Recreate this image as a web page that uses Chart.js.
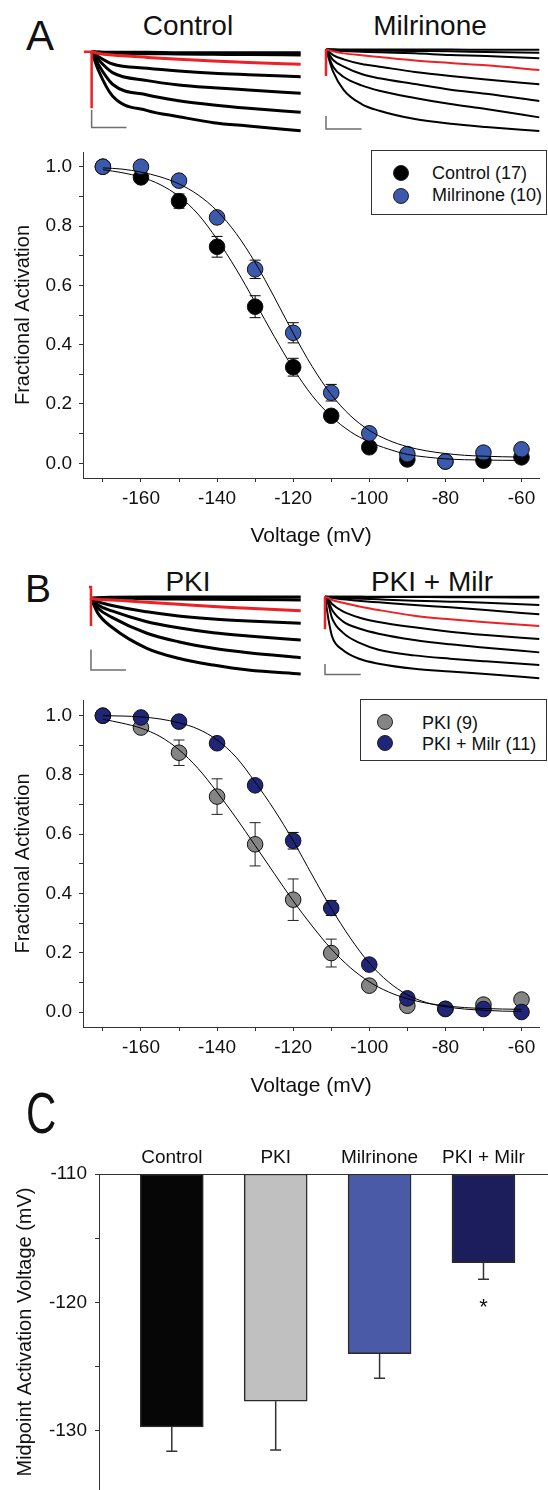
<!DOCTYPE html>
<html>
<head>
<meta charset="utf-8">
<script src="https://cdn.jsdelivr.net/npm/chart.js@4.4.1/dist/chart.umd.min.js"></script>
<style>
    body { margin: 0; background: #fff; }
    #fig { position: relative; width: 548px; height: 1490px; overflow: hidden; font-family: 'Liberation Sans', Arial, sans-serif; color: #111; }
    #fig canvas, #fig .txt, #fig .legend { position: absolute; }
    .txt { line-height: 1; white-space: nowrap; }
    .center { transform: translateX(-50%); }
    .legend { border: 1px solid #333; box-sizing: border-box; background: #fff; }
    .legend .dot { position: absolute; width: 16px; height: 16px; border-radius: 50%; border: 1px solid #222; box-sizing: border-box; }
    .legend .lab { position: absolute; font-size: 18px; line-height: 1; white-space: nowrap; }
</style>
</head>
<body>
<div id="fig">
    <div class="txt" style="left:26px;top:15px;font-size:42px">A</div>
    <div class="txt center" style="left:188px;top:12px;font-size:28px">Control</div>
    <div class="txt center" style="left:430px;top:12px;font-size:28px">Milrinone</div>
    <canvas id="traceCtrl" width="230" height="100" style="left:80px;top:40px"></canvas>
    <canvas id="traceMilr" width="238" height="100" style="left:310px;top:40px"></canvas>
    <canvas id="actA" width="548" height="420" style="left:0;top:140px"></canvas>
    <div class="legend" style="left:371px;top:150px;width:176px;height:65px">
        <span class="dot" style="left:21px;top:14px;background:#000"></span>
        <span class="lab" style="left:60px;top:13px">Control (17)</span>
        <span class="dot" style="left:21px;top:37px;background:#3c5aab"></span>
        <span class="lab" style="left:60px;top:35px">Milrinone (10)</span>
    </div>

    <div class="txt" style="left:25px;top:569px;font-size:39px">B</div>
    <div class="txt center" style="left:188px;top:568px;font-size:28px">PKI</div>
    <div class="txt center" style="left:432px;top:568px;font-size:28px">PKI + Milr</div>
    <canvas id="tracePki" width="230" height="115" style="left:80px;top:575px"></canvas>
    <canvas id="tracePkiMilr" width="238" height="100" style="left:310px;top:590px"></canvas>
    <canvas id="actB" width="548" height="420" style="left:0;top:690px"></canvas>
    <div class="legend" style="left:360px;top:699px;width:187px;height:62px">
        <span class="dot" style="left:16px;top:14px;background:#858585"></span>
        <span class="lab" style="left:61px;top:14px">PKI (9)</span>
        <span class="dot" style="left:16px;top:35px;background:#1f2577"></span>
        <span class="lab" style="left:61px;top:35px">PKI + Milr (11)</span>
    </div>

    <div class="txt" style="left:26px;top:1085px;font-size:42px;transform:scaleY(1.38);transform-origin:0 0">C</div>
    <canvas id="midpoint" width="548" height="380" style="left:0;top:1110px"></canvas>
</div>
<script>
// --- activation curves (fractional activation vs voltage) ---
const voltages = [-170, -160, -150, -140, -130, -120, -110, -100, -90, -80, -70, -60];
const ctrlAct = [1.0, 0.964, 0.884, 0.730, 0.528, 0.324, 0.160, 0.054, 0.013, 0.006, 0.009, 0.020];
const ctrlErr = [0, 0.012, 0.024, 0.035, 0.037, 0.030, 0.012, 0.010, 0.006, 0.005, 0.005, 0.006];
const milrAct = [1.0, 1.0, 0.953, 0.829, 0.654, 0.440, 0.238, 0.101, 0.031, 0.006, 0.036, 0.047];
const milrErr = [0, 0, 0.010, 0.012, 0.031, 0.034, 0.028, 0.012, 0.008, 0.005, 0.008, 0.010];
const pkiAct = [1.0, 0.960, 0.875, 0.727, 0.566, 0.379, 0.199, 0.089, 0.021, 0.010, 0.025, 0.042];
const pkiErr = [0, 0.015, 0.043, 0.060, 0.073, 0.070, 0.047, 0.015, 0.008, 0.006, 0.010, 0.012];
const pkiMilrAct = [1.0, 0.994, 0.980, 0.907, 0.765, 0.578, 0.351, 0.160, 0.046, 0.011, 0.010, 0.0];
const pkiMilrErr = [0, 0.005, 0.008, 0.012, 0.015, 0.028, 0.025, 0.012, 0.008, 0.005, 0.005, 0.005];

// fitted curves, read every 5 mV
const fitVoltages = [-170, -165, -160, -155, -150, -145, -140, -135, -130, -125, -120, -115,
    -110, -105, -100, -95, -90, -85, -80, -75, -70, -65, -60];
const ctrlFit = [0.990, 0.980, 0.965, 0.940, 0.900, 0.840, 0.755, 0.655, 0.543, 0.428, 0.320, 0.228,
    0.158, 0.107, 0.072, 0.048, 0.030, 0.021, 0.015, 0.012, 0.011, 0.010, 0.010];
const milrFit = [0.996, 0.992, 0.982, 0.966, 0.942, 0.905, 0.851, 0.775, 0.677, 0.561, 0.439, 0.326,
    0.232, 0.161, 0.111, 0.078, 0.056, 0.042, 0.033, 0.027, 0.024, 0.022, 0.021];
const pkiFit = [0.988, 0.975, 0.958, 0.930, 0.885, 0.822, 0.742, 0.655, 0.562, 0.468, 0.375, 0.290,
    0.213, 0.150, 0.102, 0.068, 0.045, 0.030, 0.021, 0.015, 0.012, 0.010, 0.009];
const pkiMilrFit = [1.0, 0.999, 0.996, 0.989, 0.976, 0.955, 0.918, 0.860, 0.776, 0.683, 0.578, 0.462,
    0.350, 0.250, 0.165, 0.102, 0.058, 0.032, 0.018, 0.010, 0.006, 0.003, 0.002];

// --- midpoint bars ---
const groups = ['Control', 'PKI', 'Milrinone', 'PKI + Milr'];
const midpoints = [-129.7, -127.7, -124.0, -116.9];
const midpointErr = [1.9, 3.8, 1.9, 1.3];
const sigMarks = ['', '', '', '*'];

// --- current traces (time in s, current in nA; scale bars 1 nA / 0.5 s) ---
const ctrlTime = [0, 0.1, 0.3, 0.8, 1.25, 1.75, 2.25, 3.0];
const ctrlCurrents = [
    [0, -0.02, -0.04, -0.04, -0.06, -0.06, -0.06, -0.06],
    [0, -0.04, -0.08, -0.12, -0.13, -0.15, -0.17, -0.19],
    [0, -0.10, -0.19, -0.33, -0.44, -0.54, -0.62, -0.73],
    [0, -0.29, -0.71, -0.96, -1.12, -1.25, -1.33, -1.44],
    [0, -0.48, -1.21, -1.67, -1.92, -2.08, -2.21, -2.40],
    [0, -0.77, -1.88, -2.50, -2.83, -3.08, -3.27, -3.50],
    [0, -1.10, -2.56, -3.40, -3.75, -4.10, -4.29, -4.56]
];
const ctrlSpike = { t: [-0.11, 0, 0], i: [0, 0, -3.27] };
const ctrlBar = { t: [0, 0, 0.5], i: [-3.37, -4.37, -4.37] };

const milrTime = [0, 0.1, 0.25, 0.5, 0.75, 1.25, 1.75, 2.25, 3.0];
const milrCurrents = [
    [0, 0, -0.01, -0.01, -0.02, -0.02, -0.02, -0.03, -0.03],
    [0, -0.03, -0.05, -0.08, -0.10, -0.13, -0.15, -0.21, -0.26],
    [0, -0.05, -0.13, -0.18, -0.23, -0.31, -0.44, -0.51, -0.69],
    [0, -0.15, -0.31, -0.46, -0.59, -0.85, -1.05, -1.23, -1.59],
    [0, -0.44, -0.77, -1.13, -1.33, -1.74, -2.05, -2.31, -2.69],
    [0, -0.82, -1.33, -1.90, -2.23, -2.67, -3.10, -3.41, -3.97],
    [0, -1.33, -2.13, -2.77, -3.18, -3.74, -4.21, -4.59, -5.23],
    [0, -1.72, -3.13, -4.21, -4.72, -5.36, -5.72, -5.97, -6.28]
];
const milrSpike = { t: [0, 0], i: [0, -2.05] };
const milrBar = { t: [0, 0, 0.5], i: [-5.13, -6.13, -6.13] };

const pkiTime = [0, 0.1, 0.3, 0.8, 1.25, 1.75, 2.25, 3.0];
const pkiCurrents = [
    [0, 0.03, 0.05, 0.06, 0.06, 0.06, 0.06, 0.06],
    [0, 0.02, 0.02, -0.02, -0.03, -0.05, -0.06, -0.08],
    [0, -0.05, -0.08, -0.19, -0.29, -0.40, -0.48, -0.60],
    [0, -0.16, -0.35, -0.65, -0.85, -1.00, -1.10, -1.21],
    [0, -0.32, -0.61, -1.13, -1.42, -1.66, -1.82, -2.02],
    [0, -0.48, -0.92, -1.69, -2.10, -2.42, -2.63, -2.87],
    [0, -0.73, -1.40, -2.42, -2.90, -3.23, -3.47, -3.66]
];
const pkiSpike = { t: [-0.03, 0, 0], i: [0.55, 0.55, -1.34] };
const pkiBar = { t: [0, 0, 0.5], i: [-2.47, -3.47, -3.47] };

const pkiMilrTime = [0, 0.05, 0.1, 0.25, 0.5, 0.75, 1.25, 1.75, 2.25, 3.0];
const pkiMilrCurrents = [
    [0, 0, 0, 0, 0, 0, 0, 0, 0, 0],
    [0, 0, 0, -0.01, -0.02, -0.03, -0.04, -0.05, -0.06, -0.08],
    [0, -0.03, -0.06, -0.13, -0.19, -0.26, -0.39, -0.48, -0.58, -0.81],
    [0, -0.06, -0.13, -0.26, -0.42, -0.55, -0.81, -1.03, -1.29, -1.71],
    [0, -0.13, -0.32, -0.58, -0.97, -1.29, -1.84, -2.19, -2.48, -2.84],
    [0, -0.26, -0.71, -1.42, -2.06, -2.45, -2.97, -3.39, -3.71, -4.10],
    [0, -0.48, -1.29, -2.39, -3.13, -3.58, -4.19, -4.61, -4.94, -5.39],
    [0, -0.81, -2.10, -3.48, -4.52, -5.13, -5.68, -6.00, -6.26, -6.61],
    [0, -2.26, -3.87, -5.16, -6.06, -6.48, -6.97, -7.23, -7.48, -7.90]
];
const pkiMilrSpike = { t: [0, 0], i: [0, -3.16] };
const pkiMilrBar = { t: [0, 0, 0.5], i: [-6.52, -7.52, -7.52] };

const RED = '#ec2126';
const AXIS = '#333';

Chart.defaults.font.family = "'Liberation Sans', Arial, sans-serif";
Chart.defaults.color = '#111';
Chart.defaults.animation = false;
Chart.defaults.events = [];
Chart.defaults.plugins.legend.display = false;
Chart.defaults.plugins.tooltip.enabled = false;

const toXY = (xs, ys) => xs.map((x, i) => ({ x, y: ys[i] }));

// draws mean +/- error through the chart scales
const errorBarPlugin = {
    id: 'errorBars',
    beforeDatasetsDraw(chart) {
        const { ctx } = chart;
        const xs = chart.scales.x, ys = chart.scales.y;
        chart.data.datasets.forEach(ds => {
            if (!ds.errors) return;
            ctx.save();
            ctx.strokeStyle = ds.errorColor || '#000';
            ctx.lineWidth = ds.errorWidth || 1;
            ds.data.forEach((p, i) => {
                const e = ds.errors[i];
                if (!e) return;
                const v = Array.isArray(p.y) ? p.y[1] : p.y;
                const px = xs.getPixelForValue(p.x);
                const lo = ys.getPixelForValue(v - e);
                const hi = ys.getPixelForValue(ds.errorDownOnly ? v : v + e);
                const c = ds.capHalf || 5;
                ctx.beginPath();
                ctx.moveTo(px, hi); ctx.lineTo(px, lo);
                ctx.moveTo(px - c, lo); ctx.lineTo(px + c, lo);
                if (!ds.errorDownOnly) { ctx.moveTo(px - c, hi); ctx.lineTo(px + c, hi); }
                ctx.stroke();
            });
            ctx.restore();
        });
    },
    afterDatasetsDraw(chart) {
        const { ctx } = chart;
        chart.data.datasets.forEach(ds => {
            if (!ds.marks) return;
            ctx.save();
            ctx.fillStyle = '#111';
            ctx.font = "22px 'Liberation Sans', Arial, sans-serif";
            ctx.textAlign = 'center';
            ctx.textBaseline = 'alphabetic';
            ds.data.forEach((p, i) => {
                if (!ds.marks[i]) return;
                const v = p.y[1] - ds.errors[i];
                ctx.fillText(ds.marks[i], chart.scales.x.getPixelForValue(p.x), chart.scales.y.getPixelForValue(v) + 35);
            });
            ctx.restore();
        });
    }
};

// --- example current traces ---
function renderTraces(id, time, currents, redIndex, spike, bar, xRange, yRange, width) {
    const datasets = currents.map((c, i) => ({
        data: toXY(time, c),
        borderColor: i === redIndex ? RED : '#000',
        borderWidth: width,
        order: i === redIndex ? 0 : 1,
        cubicInterpolationMode: 'monotone'
    }));
    datasets.push({ data: toXY(spike.t, spike.i), borderColor: RED, borderWidth: 2.5, order: 0 });
    datasets.push({ data: toXY(bar.t, bar.i), borderColor: '#6e6e6e', borderWidth: 1.5, order: 2 });

    new Chart(document.getElementById(id), {
        type: 'line',
        data: { datasets },
        options: {
            responsive: false,
            layout: { padding: 0 },
            elements: { point: { radius: 0 }, line: { tension: 0, borderCapStyle: 'butt' } },
            scales: {
                x: { type: 'linear', display: false, min: xRange[0], max: xRange[1] },
                y: { display: false, min: yRange[0], max: yRange[1] }
            }
        }
    });
}

// --- activation plots ---
function renderActivation(id, fits, series, yRange, padTop, xHeight) {
    const datasets = fits.map(f => ({
        data: toXY(fitVoltages, f),
        showLine: true,
        borderColor: '#000',
        borderWidth: 1,
        pointRadius: 0,
        cubicInterpolationMode: 'monotone',
        order: 0
    }));
    series.forEach((s, i) => datasets.push({
        label: s.label,
        data: toXY(voltages, s.values),
        errors: s.errors,
        errorColor: s.errorColor,
        capHalf: 5.5,
        backgroundColor: s.color,
        borderColor: '#111',
        borderWidth: 1,
        pointRadius: 7.8,
        order: series.length - i
    }));

    new Chart(document.getElementById(id), {
        type: 'scatter',
        data: { datasets },
        plugins: [errorBarPlugin],
        options: {
            responsive: false,
            layout: { padding: { top: padTop, left: 0, right: 0, bottom: 0 } },
            scales: {
                x: {
                    type: 'linear', min: -175.23, max: -55.35,
                    border: { color: AXIS, width: 1 },
                    grid: { drawOnChartArea: false, tickLength: 4, color: AXIS },
                    ticks: {
                        stepSize: 10, includeBounds: false, autoSkip: false, maxRotation: 0, padding: 5,
                        font: { size: 19 },
                        callback: v => (v % 20 === 0 ? v : '')
                    },
                    title: { display: true, text: 'Voltage (mV)', font: { size: 21 }, padding: { top: 0, bottom: 11 } },
                    afterFit: s => { s.height = xHeight; s.paddingLeft = 0; s.paddingRight = 0; }
                },
                y: {
                    type: 'linear', min: yRange[0], max: yRange[1],
                    border: { color: AXIS, width: 1 },
                    grid: { drawOnChartArea: false, tickLength: 4, color: AXIS },
                    ticks: {
                        stepSize: 0.1, includeBounds: false, autoSkip: false, padding: 7,
                        font: { size: 19 },
                        callback: v => (Math.round(v * 10) % 2 === 0 ? v.toFixed(1) : '')
                    },
                    title: { display: true, text: 'Fractional Activation', font: { size: 20 }, padding: { top: 11, bottom: 0 } },
                    afterFit: s => { s.width = 83; s.paddingTop = 0; s.paddingBottom = 0; }
                }
            }
        }
    });
}

// --- midpoint bar chart ---
function renderMidpoints() {
    new Chart(document.getElementById('midpoint'), {
        type: 'bar',
        data: {
            datasets: [{
                data: groups.map((g, i) => ({ x: i, y: [-110, midpoints[i]] })),
                errors: midpointErr,
                errorDownOnly: true,
                errorColor: '#333',
                errorWidth: 1.5,
                capHalf: 5.5,
                marks: sigMarks,
                backgroundColor: ['#060606', '#c0c0c0', '#4b5aa6', '#1c1d5b'],
                borderColor: '#2a2a2a',
                borderWidth: 1.5,
                borderSkipped: false,
                barThickness: 63
            }]
        },
        plugins: [errorBarPlugin],
        options: {
            responsive: false,
            layout: { padding: 0 },
            scales: {
                x: {
                    type: 'linear', position: 'top', min: -0.7007, max: 3.621, offset: false,
                    border: { color: AXIS, width: 1 },
                    grid: { display: true, drawOnChartArea: false, drawTicks: false, offset: false },
                    ticks: {
                        stepSize: 1, includeBounds: false, autoSkip: false, maxRotation: 0, padding: 5,
                        font: { size: 19 },
                        callback: v => groups[v] ?? ''
                    },
                    afterFit: s => { s.height = 64; s.paddingLeft = 0; s.paddingRight = 0; }
                },
                y: {
                    type: 'linear', min: -134.61, max: -110,
                    border: { color: AXIS, width: 1 },
                    grid: { drawOnChartArea: false, tickLength: 4, color: AXIS },
                    ticks: {
                        stepSize: 5, includeBounds: false, autoSkip: false, padding: 8,
                        font: { size: 19 },
                        callback: v => (v % 10 === 0 ? v : '')
                    },
                    title: { display: true, text: 'Midpoint Activation Voltage (mV)', font: { size: 20 }, padding: { top: 13, bottom: 0 } },
                    afterFit: s => { s.width = 99; s.paddingTop = 0; s.paddingBottom = 0; }
                }
            }
        }
    });
}

document.addEventListener('DOMContentLoaded', () => {
    renderTraces('traceCtrl', ctrlTime, ctrlCurrents, 2, ctrlSpike, ctrlBar, [-0.167, 3.134], [-5.096, 0.673], 3);
    renderTraces('traceMilr', milrTime, milrCurrents, 3, milrSpike, milrBar, [-0.225, 3.122], [-6.97, 0.718], 2);
    renderTraces('tracePki', pkiTime, pkiCurrents, 2, pkiSpike, pkiBar, [-0.157, 3.133], [-4.435, 1.129], 3);
    renderTraces('tracePkiMilr', pkiMilrTime, pkiMilrCurrents, 4, pkiMilrSpike, pkiMilrBar, [-0.21, 3.122], [-9.03, 0.645], 2);

    renderActivation('actA', [ctrlFit, milrFit], [
        { label: 'Control (17)', values: ctrlAct, errors: ctrlErr, color: '#000', errorColor: '#000' },
        { label: 'Milrinone (10)', values: milrAct, errors: milrErr, color: '#3c5aab', errorColor: '#000' }
    ], [-0.0496, 1.0496], 12, 82);

    renderActivation('actB', [pkiFit, pkiMilrFit], [
        { label: 'PKI (9)', values: pkiAct, errors: pkiErr, color: '#858585', errorColor: '#222' },
        { label: 'PKI + Milr (11)', values: pkiMilrAct, errors: pkiMilrErr, color: '#1f2577', errorColor: '#000' }
    ], [-0.0506, 1.053], 10, 83);

    renderMidpoints();
});
</script>
</body>
</html>
